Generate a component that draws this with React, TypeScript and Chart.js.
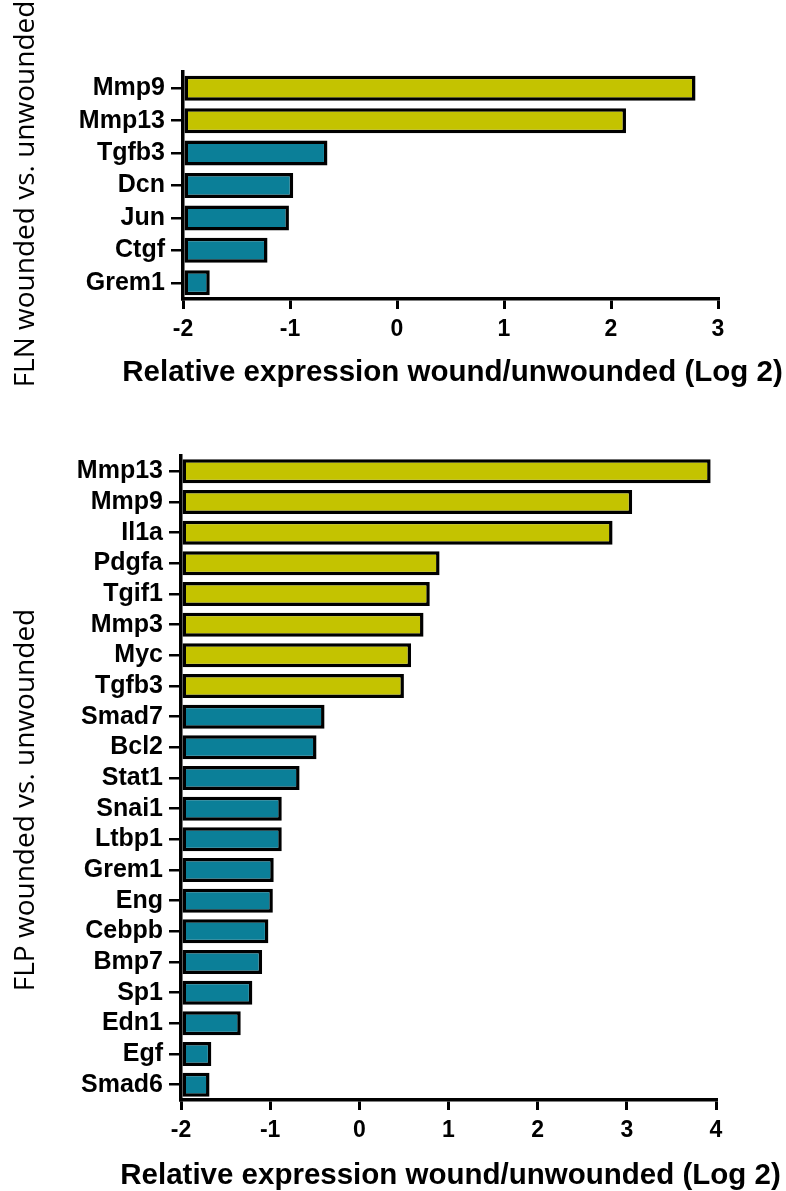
import React, { useEffect, useRef } from "react";
import { Chart, registerables } from "chart.js";

Chart.register(...registerables);

// ---------- data ----------
const flnGenes = ["Mmp9", "Mmp13", "Tgfb3", "Dcn", "Jun", "Ctgf", "Grem1"];
const flnValues = [2.79, 2.14, -0.65, -0.97, -1.01, -1.21, -1.75];

const flpGenes = [
  "Mmp13", "Mmp9", "Il1a", "Pdgfa", "Tgif1", "Mmp3", "Myc", "Tgfb3",
  "Smad7", "Bcl2", "Stat1", "Snai1", "Ltbp1", "Grem1", "Eng", "Cebpb",
  "Bmp7", "Sp1", "Edn1", "Egf", "Smad6",
];
const flpValues = [
  3.94, 3.06, 2.84, 0.9, 0.79, 0.72, 0.58, 0.5,
  -0.39, -0.48, -0.67, -0.87, -0.87, -0.96, -0.97, -1.02,
  -1.09, -1.2, -1.33, -1.66, -1.68,
];

const flnTitle = "FLN wounded vs. unwounded";
const flpTitle = "FLP wounded vs. unwounded";
const xTitle = "Relative expression wound/unwounded (Log 2)";

const UP = "#C4C300";
const DOWN = "#0B7F98";
const FONT = "'Liberation Sans', Arial, sans-serif";

const titlesPlugin = {
  id: "titles",
  afterDraw(chart: any, _args: any, opts: any) {
    const ctx = chart.ctx;
    const area = chart.chartArea;
    // y title (rotated)
    ctx.save();
    ctx.translate(opts.yx, opts.yy);
    ctx.rotate(-Math.PI / 2);
    ctx.font = opts.yFont;
    ctx.fillStyle = "#000";
    ctx.textAlign = "center";
    ctx.textBaseline = "alphabetic";
    ctx.fillText(opts.yText, 0, 0);
    ctx.restore();
    // x title
    ctx.save();
    ctx.font = opts.xFont;
    ctx.fillStyle = "#000";
    ctx.textAlign = "center";
    ctx.textBaseline = "middle";
    ctx.fillText(opts.xText, (area.left + area.right) / 2 + opts.xShift, area.bottom + opts.xOffset);
    ctx.restore();
  },
};

type Props = {
  labels: string[];
  values: number[];
  min: number;
  max: number;
  yTitle: string;
  width: number;
  height: number;
  axisLeft: number;
  padTop: number;
  padRight: number;
  padBottom: number;
  tickPad: number;
  xTitleOffset: number;
  yTitleY: number;
  barPct: number;
};

function HBar(p: Props) {
  const ref = useRef<HTMLCanvasElement | null>(null);
  useEffect(() => {
    if (!ref.current) return;
    const chart = new Chart(ref.current, {
      type: "bar",
      data: {
        labels: p.labels,
        datasets: [
          {
            data: p.values,
            base: p.min,
            backgroundColor: p.values.map((v) => (v > 0 ? UP : DOWN)),
            borderColor: "#000",
            borderWidth: 3.5,
            borderSkipped: false,
            barPercentage: p.barPct,
            categoryPercentage: 1,
          } as any,
        ],
      },
      plugins: [titlesPlugin as any],
      options: {
        indexAxis: "y",
        animation: false,
        responsive: false,
        devicePixelRatio: 1,
        layout: { padding: { top: p.padTop, right: p.padRight, left: 0, bottom: p.padBottom } },
        plugins: {
          legend: { display: false },
          tooltip: { enabled: false },
          titles: {
            yText: p.yTitle,
            yx: 34,
            yy: p.yTitleY,
            yFont: "28px 'Open Sans', sans-serif",
            xText: xTitle,
            xFont: "bold 29.5px 'Liberation Sans', Arial, sans-serif",
            xOffset: p.xTitleOffset,
            xShift: 2,
          },
        } as any,
        scales: {
          x: {
            type: "linear",
            min: p.min,
            max: p.max,
            ticks: {
              stepSize: 1,
              color: "#000",
              padding: p.tickPad,
              font: { family: FONT, size: 23, weight: "bold" },
            },
            grid: {
              drawOnChartArea: false,
              drawTicks: true,
              tickLength: 10,
              color: "#000",
              lineWidth: 3,
            },
            border: { color: "#000", width: 3.5 },
          },
          y: {
            type: "category",
            offset: true,
            ticks: {
              autoSkip: false,
              color: "#000",
              padding: 6,
              font: { family: FONT, size: 25, weight: "bold" },
            },
            grid: {
              offset: false,
              drawOnChartArea: false,
              drawTicks: true,
              tickLength: 12,
              color: "#000",
              lineWidth: 2.5,
            },
            border: { color: "#000", width: 3.5 },
            afterFit: (s: any) => {
              s.width = p.axisLeft;
            },
          },
        },
      } as any,
    });
    return () => chart.destroy();
  }, []);
  return <canvas ref={ref} width={p.width} height={p.height} style={{ display: "block" }} />;
}

export default function App() {
  return (
    <div style={{ position: "absolute", left: 0, top: 0, width: 786, height: 1191, background: "#fff" }}>
      <div style={{ position: "absolute", left: 0, top: 0 }}>
        <HBar
          labels={flnGenes}
          values={flnValues}
          min={-2}
          max={3}
          yTitle={flnTitle}
          width={786}
          height={387}
          axisLeft={183}
          padTop={72}
          padRight={68}
          padBottom={36.4}
          tickPad={7}
          xTitleOffset={73.5}
          yTitleY={194}
          barPct={0.77}
        />
      </div>
      <div style={{ position: "absolute", left: 0, top: 387 }}>
        <HBar
          labels={flpGenes}
          values={flpValues}
          min={-2}
          max={4}
          yTitle={flpTitle}
          width={786}
          height={804}
          axisLeft={181}
          padTop={69}
          padRight={70}
          padBottom={39}
          tickPad={7.2}
          xTitleOffset={76}
          yTitleY={413}
          barPct={0.78}
        />
      </div>
    </div>
  );
}
